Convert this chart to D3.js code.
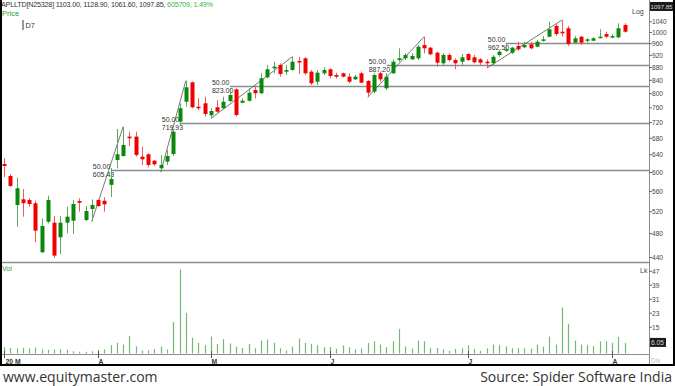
<!DOCTYPE html>
<html>
<head>
<meta charset="utf-8">
<script src="https://cdn.jsdelivr.net/npm/d3@7"></script>
<style>
body { margin: 0; background: #fff; }
text { font-family: "Liberation Sans", Arial, sans-serif; }
text.foot { font-family: "Open Sans", sans-serif; }
</style>
</head>
<body>
<div id="chart"></div>
<script>
// daily candles, 11 Mar 2020 .. 5 Aug 2020
var opens  = [619,592.5,533,544.1,542.7,536.3,448.5,501.4,499.6,473.7,499.6,503.2,540.8,504.5,525.2,542.7,541.3,573.6,628,637.3,
              684,684,635.7,641.3,626.4,609.3,624.2,642,722.3,776.9,834,762.9,772.5,739.4,761.3,758.5,778.9,812.9,774.1,779.7,
              810.8,801.2,849.3,877.7,888.4,866.9,872.2,901.4,910.3,866.9,835.8,861.9,874.5,856.5,861.9,851.2,843.1,861.9,837.9,805.9,
              861.9,815.9,861.9,904.6,910.3,906.9,910.3,955.5,946.3,929.1,893.9,921.4,904.6,899.1,924.7,913.7,906.9,899.1,893.9,921.4,
              935.8,929.1,952.1,947.7,958,949.7,973.1,984.9,1024.3,1003.1,1015.7,963.5,984.9,970.6,970.6,982.7,994.5,982.7,982.7,1028];
var highs  = [632.7,596.2,588.8,565,546.1,541.3,507.7,551.4,512,512,529.6,542.7,546.1,531,544.1,544.1,548.1,610,703.3,709,
              696.4,696.4,659.3,643.6,628,639.7,651.3,702.5,772.5,839,835.8,786.6,791.3,758.5,781.7,791.3,815.9,815.9,786.6,815.9,
              823.7,861.9,888.4,899.1,893.9,888.4,915.5,915.5,913.7,872.2,872.2,881,877.7,863.8,863.8,861.9,856.5,866.9,840.9,861.9,
              866.9,861.9,906.9,944.1,927.1,927.1,955.5,984.9,948.7,932.5,927.1,927.1,910.3,924.7,927.1,921.4,910.3,906.9,921.4,938.2,
              961.4,949.7,967.2,967.2,967.2,973.1,987.4,1040.4,1034.4,1046.8,1024.3,987.4,987.4,979.2,983.8,1011.9,1003.1,994.5,1034.4,1034.4];
var lows   = [590.3,569.2,492.4,510.7,529.6,465.1,447,498.5,439.2,445.7,480.7,479.4,520,502.7,502,529.6,520,548.8,609.3,635.7,
              661,635.7,616.8,611.6,614.5,601,616.8,637.3,713.7,762.9,758.5,753.7,735.6,730.5,746.4,755.7,775.3,735.6,772.5,776.9,
              786.6,799.2,846.2,861.9,851.2,856.5,870,859.7,856.5,825.9,825.9,856.5,846.2,846.2,849.3,831,840.9,831,789.5,801.2,
              835.8,810.8,859.7,899.1,904.6,904.6,904.6,927.1,921.4,883,888.4,899.1,874.5,888.4,901.4,893.9,888.4,878.2,886.1,914.7,
              932.5,924.7,935.8,944.1,940.6,947.7,967.2,982.7,987.4,984.9,952.1,961.4,955.5,963.5,969.6,979.2,979.2,979.2,979.2,999.4];
var closes = [614.5,571.3,566.5,536.3,534.9,485.2,493.6,542.7,443,499.6,510.7,534.9,537.4,521.3,533,531,534.3,586,641.3,663.5,
              679.9,639.7,629.6,616.8,618.3,616.8,637.3,696.4,758.5,818.9,761.3,758.5,742.9,751,749.1,776.9,796.3,740.2,779.7,803,
              801.2,846.2,874.5,883,859.7,872.2,899.1,897.2,861.9,831,863.8,872.2,853.4,851.2,851.2,835.8,851.2,832.8,803,856.5,
              843.1,851.2,899.1,910.3,921.4,918,949.7,944.1,923.7,895.9,921.4,904.6,893.9,913.7,904.6,897.2,895.9,893.9,915.5,932.5,
              940.6,946.3,940.6,955.5,944.1,967.2,975.5,1011.9,994.5,997.3,959,979.2,963.5,975.5,979.2,984.9,984.9,987.4,1015.7,1003.1];
// volume in lakh shares
var volumes = [3.6,3.2,2.9,3.2,2.9,3.4,2.3,2.1,2.3,2.3,2.1,1.3,1.0,1.0,1.3,1.9,2.3,4.8,6.1,5.1,
               9.9,4.0,1.7,1.7,2.5,4.0,2.3,17.9,48.0,23.2,9.0,6.1,4.8,9.7,5.5,8.2,5.7,3.8,3.2,5.5,
               3.0,7.4,8.0,6.1,3.0,1.7,4.0,8.6,6.1,5.5,4.8,3.6,3.8,2.7,4.6,3.6,2.3,2.9,6.1,7.0,
               5.1,3.6,7.0,14.1,4.0,2.9,7.4,7.0,3.2,3.2,2.3,1.5,2.7,3.0,4.8,2.5,1.5,2.9,5.1,4.8,
               4.0,3.0,3.0,3.0,2.7,5.1,4.0,9.7,5.1,26.3,17.0,7.4,5.1,4.8,4.2,7.0,7.0,6.1,9.5,6.05];

var monthIdx = [0, 15, 33, 52, 74, 97];
var monthLabels = ['20 M', 'A', 'M', 'J', 'J', 'A'];
var priceTicks = [1040,1000,960,920,880,840,800,760,720,680,640,600,560,520,480,440];
var volTicks = [47, 39, 31, 23, 15];

// 50% retracement swings
var swingFrom = [14, 25, 33, 58, 77];
var swingTo   = [19, 29, 46, 67, 89];
var swingLow  = [502, 601, 730.5, 789.5, 878.2];
var swingHigh = [709, 839, 915.5, 984.9, 1046.8];
var levels    = [605.43, 719.93, 823.00, 887.20, 962.50];

var lastPrice = 1097.85;
var lastVol = 6.05;

window.onload = function(){
	draw();
}

function draw(){
	var W = 675, H = 386, axisX = 649;
	var svg = d3.select('#chart').append('svg').attr('width', W).attr('height', H);
	svg.append('rect').attr('width', W).attr('height', H).attr('fill', '#fff');

	var x = d3.scaleLinear().domain([0, 99]).range([4, 624.7]);
	var y = d3.scaleLog().domain([440, 1040]).range([257.5, 21.8]);
	var vy = d3.scaleLinear().domain([0, 47]).range([353.5, 271.25]);

	var idx = d3.range(opens.length);
	var green = '#0b870b', red = '#f20000';

	// retracement levels
	var g = svg.append('g');
	levels.forEach(function(lv, k){
		var x0 = x(swingFrom[k]);
		var ly = Math.round(y(lv)) + 0.5;
		g.append('line').attr('x1', x0 + 19).attr('x2', axisX).attr('y1', ly).attr('y2', ly)
			.attr('stroke', '#8c8c8c').attr('stroke-width', 1.4);
		g.append('line').attr('x1', x0).attr('y1', y(swingLow[k])).attr('x2', x(swingTo[k])).attr('y2', y(swingHigh[k]))
			.attr('stroke', '#555').attr('stroke-width', 0.8);
		g.append('text').attr('x', x0 + 1).attr('y', ly - 2).attr('font-size', 7).attr('fill', '#333').text('50.00');
		g.append('text').attr('x', x0 + 1).attr('y', ly + 6.5).attr('font-size', 7).attr('fill', '#333').text(d3.format('.2f')(lv));
	});

	// panel frames
	svg.append('line').attr('x1', 0).attr('x2', axisX).attr('y1', 262.5).attr('y2', 262.5).attr('stroke', '#8c8c8c').attr('stroke-width', 1.4);
	svg.append('line').attr('x1', 0).attr('x2', axisX).attr('y1', 354.5).attr('y2', 354.5).attr('stroke', '#8c8c8c').attr('stroke-width', 1.2);
	svg.append('line').attr('x1', axisX + 0.5).attr('x2', axisX + 0.5).attr('y1', 0).attr('y2', 366).attr('stroke', '#8c8c8c');

	// candles
	var c = svg.append('g').selectAll('g').data(idx).enter().append('g');
	c.append('line')
		.attr('x1', function(i){ return Math.round(x(i)) + 0.5; })
		.attr('x2', function(i){ return Math.round(x(i)) + 0.5; })
		.attr('y1', function(i){ return y(highs[i]); })
		.attr('y2', function(i){ return y(lows[i]); })
		.attr('stroke', function(i){ return closes[i] >= opens[i] ? '#5cab5c' : '#f25a5a'; })
		.attr('stroke-width', 1);
	c.append('rect')
		.attr('x', function(i){ return Math.round(x(i)) - 1.5; })
		.attr('width', 4)
		.attr('y', function(i){ return y(Math.max(opens[i], closes[i])); })
		.attr('height', function(i){ return Math.max(1.5, Math.abs(y(opens[i]) - y(closes[i]))); })
		.attr('fill', function(i){ return closes[i] >= opens[i] ? green : red; });

	// volume
	svg.append('g').selectAll('line').data(idx).enter().append('line')
		.attr('x1', function(i){ return Math.round(x(i)) + 0.5; })
		.attr('x2', function(i){ return Math.round(x(i)) + 0.5; })
		.attr('y1', vy(0))
		.attr('y2', function(i){ return vy(volumes[i]); })
		.attr('stroke', '#74b874').attr('stroke-width', 1.2);

	// right price axis
	var ax = svg.append('g');
	priceTicks.forEach(function(t){
		var ty = y(t);
		ax.append('line').attr('x1', axisX).attr('x2', axisX + 3).attr('y1', ty).attr('y2', ty).attr('stroke', '#666');
		ax.append('text').attr('x', axisX + 3).attr('y', ty + 2.4).attr('font-size', 6.6).attr('fill', '#444').text(t);
	});
	volTicks.forEach(function(t){
		var ty = vy(t);
		ax.append('line').attr('x1', axisX).attr('x2', axisX + 3).attr('y1', ty).attr('y2', ty).attr('stroke', '#666');
		ax.append('text').attr('x', axisX + 3).attr('y', ty + 2.4).attr('font-size', 6.6).attr('fill', '#444').text(t);
	});
	var py = y(lastPrice);
	ax.append('rect').attr('x', axisX + 1).attr('y', py - 5).attr('width', 24).attr('height', 9).attr('fill', '#1a1a1a');
	ax.append('text').attr('x', axisX + 1.5).attr('y', py + 2.2).attr('font-size', 6.2).attr('fill', '#ddd')
		.attr('textLength', 22).attr('lengthAdjust', 'spacingAndGlyphs').text(d3.format('.2f')(lastPrice));
	var lvy = vy(lastVol);
	ax.append('rect').attr('x', axisX + 1).attr('y', lvy - 5).attr('width', 16).attr('height', 9).attr('fill', '#1a1a1a');
	ax.append('text').attr('x', axisX + 2).attr('y', lvy + 2.4).attr('font-size', 6.6).attr('fill', '#ddd').text(d3.format('.2f')(lastVol));
	ax.append('text').attr('x', 632).attr('y', 14).attr('font-size', 7).attr('fill', '#444').text('Log');
	ax.append('text').attr('x', 640).attr('y', 273).attr('font-size', 7).attr('fill', '#444').text('Lk');
	ax.append('text').attr('x', 651).attr('y', 363).attr('font-size', 6.5).attr('fill', '#bbb').text('Div');

	// month axis
	monthIdx.forEach(function(m, k){
		var mx = Math.round(x(m)) + 0.5;
		ax.append('line').attr('x1', mx).attr('x2', mx).attr('y1', 351).attr('y2', 358).attr('stroke', '#555');
		ax.append('text').attr('x', mx + (k == 0 ? 1 : 0)).attr('y', 363.5).attr('font-size', 6.8).attr('font-weight', 'bold')
			.attr('fill', '#333').text(monthLabels[k]);
	});

	// header texts
	var hd = svg.append('text').attr('x', 1).attr('y', 7).attr('font-size', 7.2).attr('fill', '#333')
		.attr('textLength', 212).attr('lengthAdjust', 'spacing');
	hd.append('tspan').text('APLLTD[N25328]   1103.00,  1128.90,  1061.60,  1097.85, ');
	hd.append('tspan').attr('fill', '#3cb43c').text(' 605709,  1.49%');
	svg.append('text').attr('x', 2).attr('y', 16).attr('font-size', 7.5).attr('fill', '#2e9a2e').text('Price');
	svg.append('rect').attr('x', 22).attr('y', 20).attr('width', 2).attr('height', 10).attr('fill', '#999');
	svg.append('text').attr('x', 25.5).attr('y', 28).attr('font-size', 7.2).attr('fill', '#333').text('D7');
	svg.append('text').attr('x', 2).attr('y', 271).attr('font-size', 7).attr('fill', '#2e9a2e').text('Vol');

	// outer frame
	svg.append('path').attr('d', 'M1,0V365H674V0').attr('fill', 'none').attr('stroke', '#000').attr('stroke-width', 2);

	svg.append('text').attr('class', 'foot').attr('x', 3).attr('y', 382).attr('font-size', 14)
		.attr('fill', '#333').text('www.equitymaster.com');
	svg.append('text').attr('class', 'foot').attr('x', 672).attr('y', 382).attr('text-anchor', 'end')
		.attr('font-size', 14).attr('fill', '#333').text('Source: Spider Software India');
}
</script>
</body>
</html>
